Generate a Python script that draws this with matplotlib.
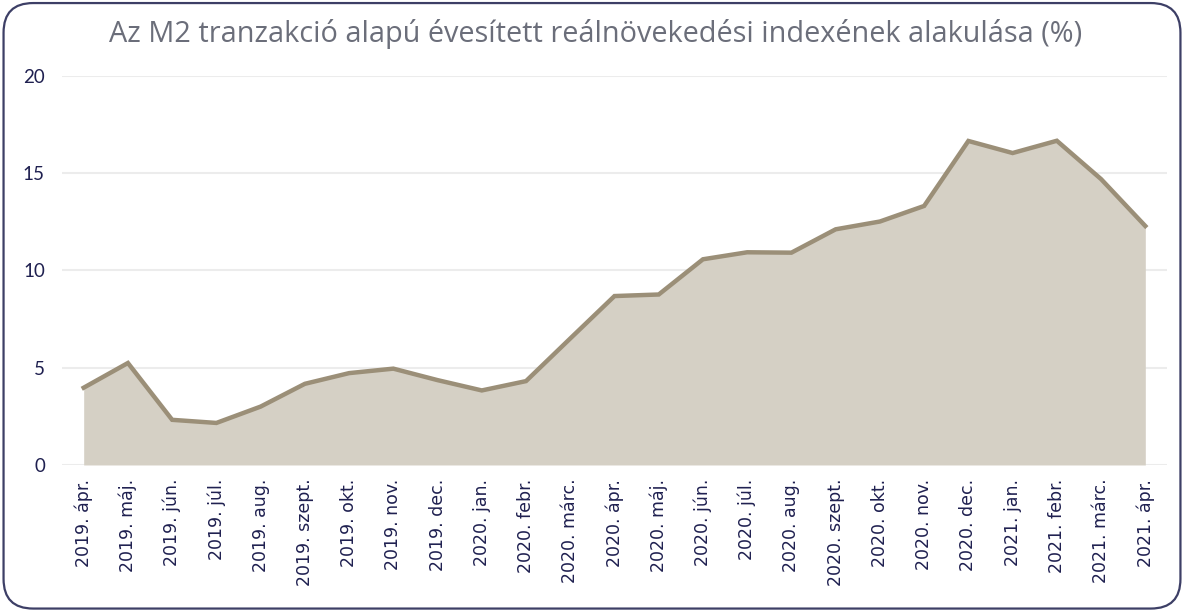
import matplotlib
matplotlib.use("Agg")
import matplotlib.pyplot as plt
from matplotlib.patches import FancyBboxPatch

categories = ["2019. ápr.", "2019. máj.", "2019. jún.", "2019. júl.", "2019. aug.",
              "2019. szept.", "2019. okt.", "2019. nov.", "2019. dec.", "2020. jan.",
              "2020. febr.", "2020. márc.", "2020. ápr.", "2020. máj.", "2020. jún.",
              "2020. júl.", "2020. aug.", "2020. szept.", "2020. okt.", "2020. nov.",
              "2020. dec.", "2021. jan.", "2021. febr.", "2021. márc.", "2021. ápr."]
values = [3.97, 5.24, 2.32, 2.16, 3.0, 4.17, 4.72, 4.95, 4.36, 3.83,
          4.31, 6.5, 8.68, 8.76, 10.57, 10.93, 10.91, 12.11, 12.51, 13.31,
          16.65, 16.03, 16.66, 14.69, 12.28]
yticks = [0, 5, 10, 15, 20]
title = "Az M2 tranzakció alapú évesített reálnövekedési indexének alakulása (%)"

fig = plt.figure(figsize=(11.84, 6.11), dpi=100)
ax = fig.add_axes([0.052, 0.239, 0.934, 0.637])

x = list(range(len(categories)))
ax.fill_between(x, values, 0, color="#d5d0c5", lw=0, zorder=2)
ax.plot(x, values, color="#9b8f78", lw=3.2, zorder=3, solid_joinstyle="miter")

ax.set_xlim(-0.5, len(categories) - 0.5)
ax.set_ylim(0, 20)
ax.set_yticks(yticks)
ax.set_yticklabels([str(v) for v in yticks], fontsize=13.5, color="#1f2050", family="Lato")
ax.set_xticks(x)
ax.set_xticklabels(categories, rotation=90, fontsize=12.5, color="#1f2050", family="DejaVu Sans")
ax.tick_params(length=0)
ax.tick_params(axis="x", pad=10)
ax.tick_params(axis="y", pad=12)
ax.grid(axis="y", color="#ececec", lw=1.5, zorder=1)
for s in ax.spines.values():
    s.set_visible(False)

fig.text(0.503, 0.945, title, ha="center", va="center", fontsize=20.8,
         color="#6b6e7a", family="Open Sans")

border = FancyBboxPatch((0.003, 0.004), 0.994, 0.991,
                        boxstyle="round,pad=0,rounding_size=0.025",
                        transform=fig.transFigure, fill=False,
                        edgecolor="#3d3f66", lw=1.6, mutation_aspect=1184/611)
fig.patches.append(border)

fig.savefig("out.png", dpi=100)
